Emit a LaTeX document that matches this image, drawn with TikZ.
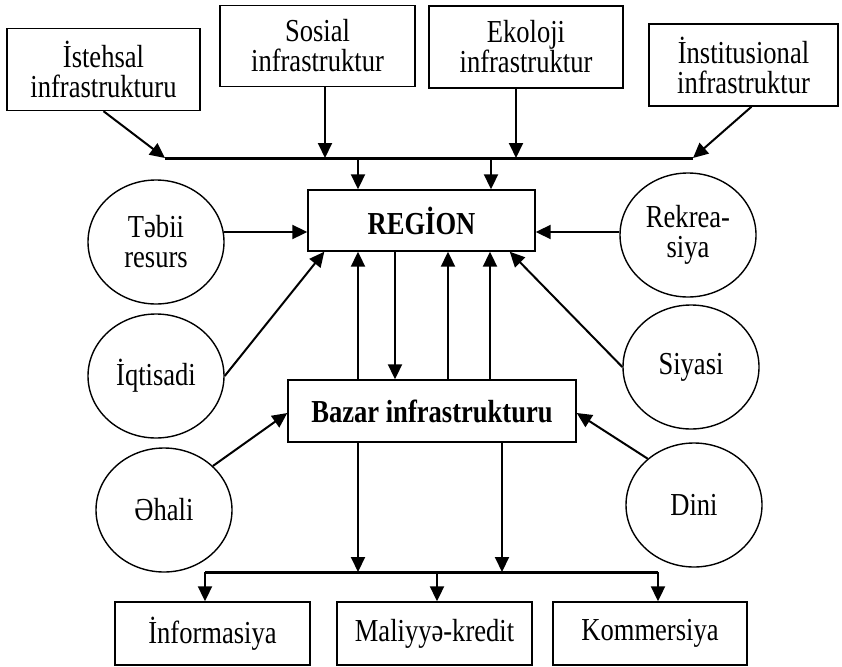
\documentclass[tikz,border=0pt]{standalone}
\usepackage{fontspec}
\setmainfont{Liberation Serif}[FakeStretch=0.83]
\usetikzlibrary{arrows.meta,shapes.geometric,calc}
\begin{document}
\begin{tikzpicture}[x=1pt,y=-1pt,
  every node/.style={font=\fontsize{32}{30}\selectfont, inner sep=0pt, align=center},
  box/.style={draw, line width=1.4pt, rectangle},
  circ/.style={draw, line width=1.4pt, ellipse, minimum width=136pt, minimum height=124pt},
  arr/.style={line width=2pt, -{Triangle[length=15pt,width=14pt]}},
  bus/.style={line width=3pt}]
\useasboundingbox (0,0) rectangle (842,666);
% top boxes
\node[box, minimum width=193pt, minimum height=82pt] (ist) at (103.5,69.5) {İstehsal\\infrastrukturu};
\node[box, minimum width=195pt, minimum height=81pt] (sos) at (317.5,46) {Sosial\\infrastruktur};
\node[box, minimum width=194pt, minimum height=82pt] (eko) at (526,47) {Ekoloji\\infrastruktur};
\node[box, minimum width=189pt, minimum height=82pt] (ins) at (743.5,65) {İnstitusional\\infrastruktur};
% central boxes
\node[box, minimum width=227pt, minimum height=61pt] (reg) at (421.5,220.5) {\textbf{REGİON}};
\node[box, minimum width=288pt, minimum height=62pt] (baz) at (432,411) {\textbf{Bazar infrastrukturu}};
% bottom boxes
\node[box, minimum width=195pt, minimum height=63pt] (inf) at (212.5,633.5) {İnformasiya};
\node[box, minimum width=195pt, minimum height=63pt] (mal) at (434.5,633.5) {Maliyyə-kredit};
\node[box, minimum width=194pt, minimum height=63pt] (kom) at (650,633.5) {Kommersiya};
% circles
\node[circ] (teb) at (156,242) {Təbii\\resurs};
\node[circ] (iqt) at (156,376) {İqtisadi};
\node[circ] (rek) at (688,235) {Rekrea-\\siya};
\node[circ] (siy) at (691,367) {Siyasi};
\node[circ] (eha) at (164,510) {Əhali};
\node[circ] (din) at (694,505) {Dini};
% top bus
\coordinate (bL) at (165,158);
\coordinate (bR) at (693,158);
\coordinate (bSos) at (325,158);
\coordinate (bEko) at (516,158);
\coordinate (bR1) at (358,158);
\coordinate (bR2) at (491,158);
\draw[bus] (bL) -- (bR);
\draw[arr] (ist.south) -- (bL);
\draw[arr] (sos.south -| bSos) -- (bSos);
\draw[arr] (eko.south -| bEko) -- (bEko);
\draw[arr] ($(ins.south)+(8,0)$) -- (bR);
\draw[arr] (bR1) -- (reg.north -| bR1);
\draw[arr] (bR2) -- (reg.north -| bR2);
% circles to REGION
\draw[arr] ($(teb.east)+(-1,-10)$) -- ($(reg.west)+(0,11.5)$);
\draw[arr] (iqt.east) -- ($(reg.south west)+(17,0)$);
\draw[arr] ($(rek.west)+(0,-3)$) -- ($(reg.east)+(0,11.5)$);
\draw[arr] (siy.west) -- ($(reg.south east)+(-26,0)$);
% REGION <-> Bazar
\coordinate (v1) at (358,0);
\coordinate (v2) at (395,0);
\coordinate (v3) at (448,0);
\coordinate (v4) at (490,0);
\draw[arr] (baz.north -| v1) -- (reg.south -| v1);
\draw[arr] (reg.south -| v2) -- (baz.north -| v2);
\draw[arr] (baz.north -| v3) -- (reg.south -| v3);
\draw[arr] (baz.north -| v4) -- (reg.south -| v4);
% circles to Bazar
\draw[arr] (eha.42) -- ($(baz.west)+(0,2)$);
\draw[arr] (din.135) -- ($(baz.east)+(0,2)$);
% bottom bus
\coordinate (c1) at (358,572);
\coordinate (c2) at (502,572);
\coordinate (d1) at (205,572);
\coordinate (d2) at (437,572);
\coordinate (d3) at (658,572);
\draw[arr] (baz.south -| c1) -- (c1);
\draw[arr] (baz.south -| c2) -- (c2);
\draw[bus] (d1) -- (d3);
\draw[arr] (d1) -- (inf.north -| d1);
\draw[arr] (d2) -- (mal.north -| d2);
\draw[arr] (d3) -- (kom.north -| d3);
\end{tikzpicture}
\end{document}
